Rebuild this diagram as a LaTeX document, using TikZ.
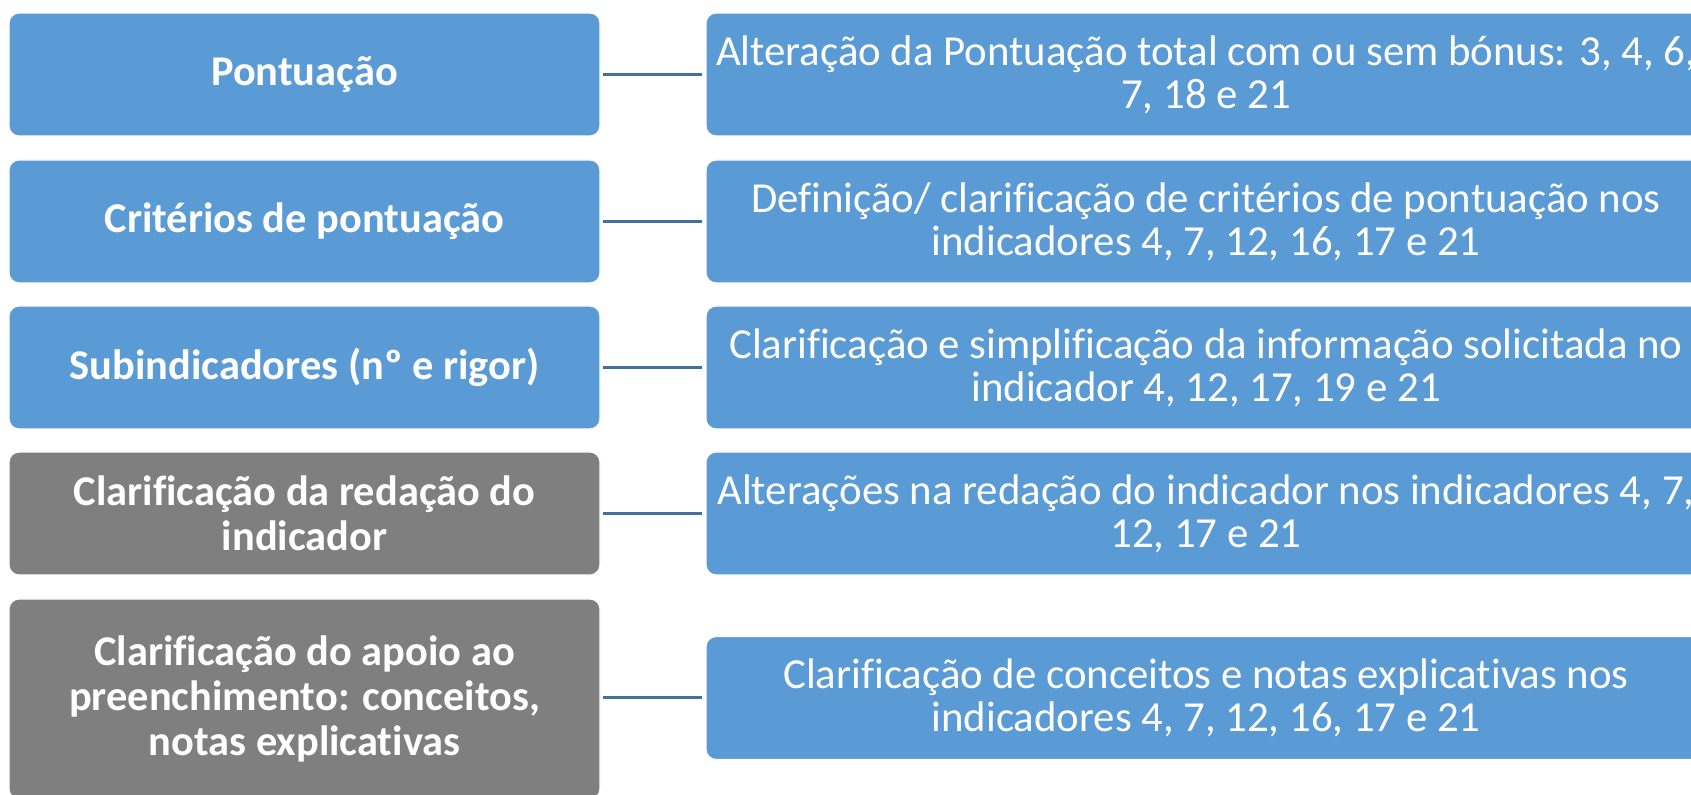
\documentclass[tikz,border=0pt]{standalone}
\usepackage{fontspec}
\setmainfont{Carlito}[Ligatures=NoCommon]
\usetikzlibrary{positioning}
\definecolor{boxblue}{HTML}{5B9BD5}
\definecolor{boxgray}{HTML}{7F7F7F}
\definecolor{linkblue}{HTML}{41719C}
\tikzset{
        box/.style={align=center,inner sep=0pt,text=white,rounded corners=5pt,draw=white,line width=0.6pt},
        % Category nodes (left)
        node_cat/.style={box, fill=boxblue, minimum width=295.5pt, minimum height=61.5pt, font=\bfseries\fontsize{21.2}{22.5}\selectfont},
        % Category nodes still open (grey)
        node_cat_open/.style={node_cat, fill=boxgray},
        % Detail nodes (right)
        node_detail/.style={box, fill=boxblue, minimum width=500pt, minimum height=61.5pt, font=\fontsize{21.4}{21.5}\selectfont},
        % Links
        link/.style={draw=linkblue, line width=1.5pt, shorten <=1pt, shorten >=1.5pt}
}
\begin{document}
\begin{tikzpicture}
            \useasboundingbox (0,0) rectangle (845.5pt,-397.5pt);
            \clip (0,0) rectangle (845.5pt,-397.5pt);
            \node[node_cat] (pont) at (152.25pt,-37.25pt) {Pontuação};
            \node[node_cat] (crit) at (152.25pt,-110.75pt) {Critérios de pontuação};
            \node[node_cat] (subind) at (152.25pt,-183.75pt) {Subindicadores (nº e rigor)};
            \node[node_cat_open] (redac) at (152.25pt,-256.75pt) {Clarificação da redação do\\indicador};
            \node[node_cat_open, minimum height=100pt] (apoio) at (152.25pt,-349.5pt) {Clarificação do apoio ao\\preenchimento: conceitos,\\notas explicativas};
            \node[node_detail] (pont_d) at (603pt,-37.25pt) {Alteração da Pontuação total com ou sem bónus: 3, 4, 6,\\7, 18 e 21};
            \node[node_detail] (crit_d) at (603pt,-110.75pt) {Definição/ clarificação de critérios de pontuação nos\\indicadores 4, 7, 12, 16, 17 e 21};
            \node[node_detail] (subind_d) at (603pt,-183.75pt) {Clarificação e simplificação da informação solicitada no\\indicador 4, 12, 17, 19 e 21};
            \node[node_detail] (redac_d) at (603pt,-256.75pt) {Alterações na redação do indicador nos indicadores 4, 7,\\12, 17 e 21};
            \node[node_detail] (apoio_d) at (603pt,-349pt) {Clarificação de conceitos e notas explicativas nos\\indicadores 4, 7, 12, 16, 17 e 21};
            \draw[link] (pont) -- (pont_d);
            \draw[link] (crit) -- (crit_d);
            \draw[link] (subind) -- (subind_d);
            \draw[link] (redac) -- (redac_d);
            \draw[link] (apoio.east |- apoio_d) -- (apoio_d);
\end{tikzpicture}
\end{document}
